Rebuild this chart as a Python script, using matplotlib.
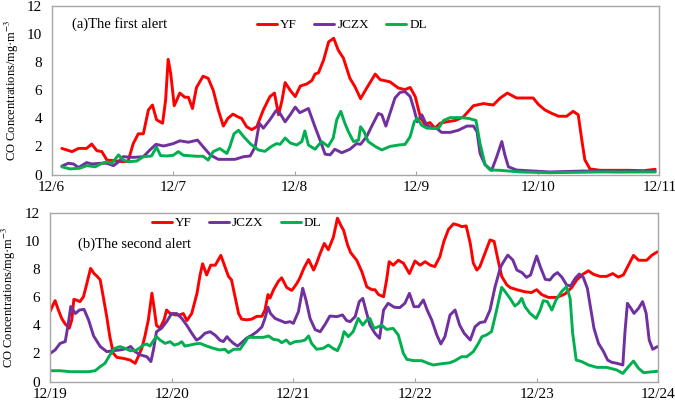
import matplotlib
matplotlib.use("Agg")
import matplotlib.pyplot as plt

plt.rcParams['font.family'] = ['Liberation Serif', 'DejaVu Serif']
plt.rcParams['mathtext.fontset'] = 'stix'

# ---------------- data (x = hours since first date) ----------------
a_dates = ['12/6', '12/7', '12/8', '12/9', '12/10', '12/11']
b_dates = ['12/19', '12/20', '12/21', '12/22', '12/23', '12/24']
series_names = ['YF', 'JCZX', 'DL']

a_yf_t = [2, 4, 5.3, 6.9, 7.9, 8.9, 9.9, 10.9, 12.2, 14.1, 15.1, 16.1, 17.1, 18.1, 19.1, 19.9, 20.7, 21.9,
          22.5, 23.0, 23.5, 24.2, 24.7, 25.3, 26.3, 27.0, 27.8, 28.6, 29.9, 30.9, 31.9, 32.9, 33.9, 34.8,
          35.8, 36.8, 37.5, 38.5, 39.5, 40.5, 41.8, 43.1, 44.0, 44.8, 45.5, 46.1, 47.1, 48.1, 49.1, 50.4,
          51.4, 52.0, 52.7, 53.7, 54.7, 55.7, 56.6, 57.6, 58.9, 59.9, 61.0, 62.2, 63.9, 64.9, 66.8, 68.5,
          69.8, 70.8, 71.8, 72.8, 73.7, 74.7, 75.7, 76.7, 78.0, 79.7, 81.3, 83.3, 85.3, 87.2, 88.6, 90.0,
          91.8, 93.5, 95.1, 96.1, 97.4, 98.8, 100.1, 101.7, 103.0, 104.0, 104.7, 105.3, 106.3, 108.3,
          113.9, 116.9, 119.2]
a_yf_v = [1.86, 1.63, 1.86, 1.86, 2.17, 1.7, 1.63, 1.03, 0.99, 0.91, 0.96, 2.2, 2.9, 2.9, 4.6, 4.95, 3.9, 3.65,
          5.3, 8.2, 7.2, 4.9, 5.3, 5.8, 5.5, 5.5, 4.7, 6.2, 7.0, 6.85, 6.0, 4.6, 3.45, 4.0,
          4.3, 4.1, 4.0, 3.4, 3.2, 3.4, 4.6, 5.55, 5.8, 4.25, 5.3, 6.55, 6.0, 5.55, 6.3, 6.45,
          6.7, 7.15, 7.25, 8.15, 9.45, 9.7, 8.85, 8.3, 6.85, 6.25, 5.4, 6.15, 7.15, 6.75, 6.6, 6.15,
          6.05, 6.2, 5.55, 4.1, 3.55, 3.7, 3.3, 3.65, 3.75, 3.85, 4.1, 4.9, 5.05, 4.95, 5.45, 5.8,
          5.45, 5.45, 5.45, 5.0, 4.6, 4.35, 4.15, 4.15, 4.5, 4.25, 2.45, 1.05, 0.4, 0.3,
          0.3, 0.27, 0.37]

a_jczx_t = [2, 3.3, 4.3, 5.3, 6.9, 7.9, 9.5, 10.9, 12.2, 13.2, 14.1, 16.1, 18.1, 19.4, 20.6, 22.1, 24, 25.3,
            27.0, 28.8, 29.9, 31.3, 32.9, 34.6, 36.2, 37.9, 39.2, 40.2, 41.0, 41.8, 43.1, 44.3, 45.1, 46.1,
            47.1, 48.1, 49.0, 50.7, 52.0, 53.0, 54.0, 55.0, 55.9, 57.3, 58.9, 60.2, 61.0, 62.2, 63.5,
            64.5, 65.2, 66.0, 66.8, 67.8, 68.8, 69.8, 70.8, 71.6, 72.2, 73.1, 74.0, 75.1, 76.0, 77.0, 78.7,
            80.3, 82.0, 83.3, 84.0, 84.6, 85.6, 86.9, 87.9, 88.9, 89.5, 90.2, 91.8, 95.1, 98.4, 105,
            111.6, 119.2]
a_jczx_v = [0.6, 0.8, 0.75, 0.5, 0.85, 0.75, 0.8, 0.8, 0.63, 0.9, 1.27, 1.22, 1.27, 1.75, 2.15, 2.03, 2.2, 2.4,
            2.3, 2.45, 1.98, 1.4, 1.08, 1.08, 1.08, 1.27, 1.32, 1.98, 3.65, 3.3, 3.9, 4.55, 4.35, 3.75,
            4.25, 4.8, 4.4, 4.7, 3.4, 2.45, 1.45, 1.4, 1.8, 1.55, 1.8, 2.2, 2.15, 2.7, 3.65,
            4.35, 4.25, 3.45, 4.35, 5.45, 5.85, 5.9, 5.55, 4.6, 3.75, 4.25, 3.55, 3.3, 3.3, 3.0, 3.0,
            3.15, 3.45, 3.45, 3.05, 1.5, 0.7, 0.3, 1.27, 2.35, 1.4, 0.55, 0.32, 0.25, 0.18, 0.25,
            0.2, 0.22]

a_dl_t = [2, 3.6, 5.6, 6.9, 8.6, 9.9, 10.9, 11.9, 13.2, 14.1, 15.1, 16.8, 18.1, 19.7, 20.7, 21.5, 22.7, 24.0,
          25.0, 26.0, 28.6, 29.9, 30.9, 31.9, 33.2, 34.6, 35.2, 36.0, 36.9, 37.9, 39.2, 40.8, 42.1, 43.4,
          44.4, 45.1, 46.1, 47.1, 48.4, 49.4, 50.0, 50.7, 52.0, 53.3, 54.6, 55.6, 56.3, 57.1, 57.9, 58.6,
          59.6, 60.6, 61.0, 61.7, 62.5, 63.9, 65.2, 66.8, 68.5, 69.8, 70.8, 71.6, 72.2, 73.1, 74.1, 75.4,
          76.4, 77.4, 78.7, 80.7, 82.3, 83.8, 84.6, 85.6, 86.6, 88.6, 92.5, 98.4, 108.3, 119.2]
a_dl_v = [0.55, 0.4, 0.45, 0.63, 0.55, 0.8, 0.9, 0.8, 1.4, 1.03, 0.91, 0.96, 1.27, 1.32, 1.95, 1.35, 1.32, 1.37,
          1.63, 1.37, 1.3, 1.3, 1.03, 1.63, 1.85, 1.5, 2.0, 2.9, 3.15, 2.7, 2.2, 1.75, 1.65, 2.0,
          2.2, 2.15, 2.6, 2.25, 2.1, 2.35, 3.1, 2.1, 1.8, 2.35, 2.0, 2.6, 3.9, 4.5, 3.65, 3.05,
          2.35, 2.45, 3.4, 3.05, 2.35, 2.0, 1.75, 2.0, 2.1, 2.15, 2.7, 3.75, 4.0, 3.5, 3.3, 3.3,
          3.3, 3.85, 4.05, 4.05, 4.0, 3.85, 2.2, 0.7, 0.32, 0.3, 0.18, 0.13, 0.18, 0.18]

b_yf_t = [0, 0.5, 1.0, 1.65, 2.3, 3.0, 3.8, 4.3, 4.7, 5.3, 5.9, 6.6, 7.2, 8.0, 8.7, 9.3, 9.9, 10.5, 11.2, 11.8,
          12.5, 13.2, 14.5, 15.8, 16.8, 17.4, 18.1, 18.7, 19.4, 20.1, 20.5, 21.0, 21.7, 22.5, 23.0, 23.7,
          24.7, 25.6, 26.3, 27.0, 27.95, 29.0, 29.6, 30.1, 30.9, 31.7, 32.6, 33.0, 33.7, 34.5, 35.2, 35.8,
          36.5, 37.2, 37.8, 38.8, 39.8, 40.8, 41.8, 42.4, 43.0, 43.4, 44.1, 45.05, 45.7, 46.7, 47.7, 48.7,
          49.3, 50.1, 51.0, 52.0, 52.6, 53.3, 54.1, 54.9, 55.9, 56.7, 57.5, 57.9, 58.7, 59.3, 60.5, 61.5,
          62.5, 63.5, 64.1, 64.8, 65.8, 66.4, 66.9, 67.7, 68.7, 69.7, 70.9, 72.0, 73.0, 74.0, 75.0, 75.9,
          76.9, 77.7, 78.6, 79.6, 80.6, 81.2, 82.1, 82.9, 83.5, 84.2, 84.8, 85.8, 86.8, 87.6, 88.3, 89.1,
          90.1, 90.8, 92.1, 93.7, 95.0, 96.0, 97.0, 98.3, 100.0, 101.6, 102.9, 103.9, 105.1, 106.2, 107.2,
          108.5, 109.8, 111.0, 112.1, 113.1, 114.1, 115.1, 116.1, 117.7, 118.7, 119.8]
b_yf_v = [4.98, 5.4, 5.77, 5.1, 4.5, 4.1, 3.8, 4.4, 5.86, 5.8, 5.7, 6.05, 6.9, 8.07, 7.7, 7.5, 7.25, 6.05, 4.6, 3.2,
          2.0, 1.72, 1.65, 1.53, 1.3, 1.77, 2.37, 3.2, 4.4, 6.3, 5.35, 4.0, 3.8, 4.4, 5.1, 4.85,
          4.75, 4.75, 4.85, 4.35, 4.85, 6.3, 7.6, 8.4, 7.6, 8.3, 8.3, 8.55, 9.0, 8.2, 7.5, 7.25,
          6.05, 4.85, 4.45, 4.4, 4.45, 4.65, 4.65, 5.1, 6.2, 5.95, 6.55, 7.15, 7.4, 6.7, 6.5, 7.0,
          7.4, 8.1, 8.7, 7.95, 8.45, 9.15, 9.85, 9.4, 10.3, 11.65, 11.05, 10.8, 9.75, 9.2, 8.65, 7.85,
          6.75, 6.55, 6.55, 6.2, 6.05, 7.25, 8.55, 8.3, 8.65, 8.45, 7.7, 8.6, 8.3, 8.55, 8.3, 8.2,
          8.9, 10.0, 10.85, 11.25, 11.15, 11.05, 11.1, 9.85, 8.45, 7.95, 8.2, 9.15, 10.1, 10.0, 8.8, 7.5,
          6.9, 6.7, 6.55, 6.4, 6.35, 6.55, 6.2, 6.0, 6.0, 6.25, 6.7, 7.25, 7.65, 7.9, 7.65,
          7.5, 7.5, 7.7, 7.45, 7.6, 8.3, 9.0, 8.65, 8.65, 9.0, 9.25]

b_jczx_t = [0, 1.0, 2.0, 3.0, 3.5, 4.1, 5.0, 5.8, 6.7, 7.6, 8.6, 9.9, 11.2, 12.5, 13.8, 15.1, 15.9, 16.8, 17.8,
            19.1, 19.9, 20.4, 21.0, 22.0, 23.0, 24.0, 25.0, 26.0, 27.0, 27.95, 28.9, 29.6, 30.6, 31.6, 32.6,
            33.5, 34.2, 34.9, 35.5, 36.2, 37.0, 37.8, 38.8, 39.8, 40.8, 41.8, 42.4, 43.0, 43.5, 44.4, 45.4,
            46.4, 47.35, 48.0, 49.0, 49.85, 50.5, 51.3, 52.3, 53.3, 54.3, 55.2, 56.6, 57.7, 58.5, 59.2, 60.2,
            61.0, 61.7, 62.3, 63.1, 64.1, 65.0, 65.8, 66.7, 67.9, 69.0, 70.0, 70.9, 71.8, 72.7, 73.65, 74.4,
            75.3, 76.3, 77.1, 77.9, 78.9, 79.9, 80.8, 81.7, 82.9, 83.85, 84.8, 85.8, 86.8, 87.8, 88.9, 89.4,
            90.3, 91.3, 92.1, 93.1, 94.0, 94.8, 95.4, 96.0, 96.7, 97.7, 98.6, 99.4, 100.1, 101.0, 101.9,
            102.7, 103.6, 104.4, 105.2, 106.0, 106.7, 107.3, 108.2, 109.2, 110.0, 110.8, 111.8, 113.0, 113.4,
            113.9, 114.6, 115.2, 116.1, 116.9, 117.6, 118.2, 118.9, 119.8]
b_jczx_v = [2.0, 2.25, 2.72, 2.85, 3.9, 5.35, 4.85, 5.1, 5.15, 4.4, 3.25, 2.5, 2.13, 2.2, 2.25, 2.35, 2.5, 2.13, 1.9,
            1.77, 1.42, 2.25, 3.55, 3.8, 4.27, 4.85, 4.85, 4.5, 4.0, 3.45, 2.95, 3.1, 3.45, 3.55, 3.3,
            2.95, 2.85, 3.2, 2.95, 2.72, 2.53, 2.77, 3.1, 3.3, 3.55, 3.9, 4.5, 5.3, 4.85, 4.5, 4.35,
            4.2, 4.27, 4.15, 4.98, 6.65, 5.8, 4.5, 3.7, 3.55, 4.1, 4.67, 4.63, 4.75, 4.35, 4.27, 4.63,
            5.7, 5.93, 5.1, 4.03, 3.44, 3.08, 5.1, 5.58, 5.3, 5.27, 5.58, 6.29, 5.34, 5.34, 5.82, 5.1,
            4.39, 3.32, 2.68, 3.2, 4.74, 5.1, 4.03, 3.44, 2.96, 3.91, 4.2, 4.27, 5.1, 6.77, 8.19, 8.5,
            9.02, 8.67, 7.95, 7.77, 7.43, 7.6, 8.3, 8.95, 8.2, 7.29, 7.24, 7.6, 7.77, 7.43, 6.89,
            6.82, 7.36, 7.67, 7.43, 6.65, 5.1, 3.8, 2.72, 2.13, 1.53, 1.37, 1.3, 1.18, 3.44,
            5.58, 5.22, 4.86, 5.22, 5.7, 4.86, 2.96, 2.3, 2.49]

b_dl_t = [0, 2.0, 3.95, 5.9, 7.6, 8.9, 9.9, 10.85, 11.8, 12.8, 13.8, 14.8, 15.8, 16.8, 17.6, 18.4, 19.1, 19.7,
          20.5, 21.0, 21.7, 22.7, 23.7, 24.5, 25.3, 26.0, 26.6, 27.6, 28.6, 29.6, 30.9, 32.2, 33.5, 34.5,
          35.2, 36.2, 37.5, 38.3, 39.1, 40.8, 42.1, 43.1, 44.1, 45.05, 45.7, 46.6, 47.35, 48.3, 49.65,
          50.3, 51.0, 51.6, 52.6, 53.9, 54.9, 55.8, 56.7, 57.5, 58.0, 58.85, 59.8, 60.8, 61.7, 62.5, 63.1,
          63.9, 64.8, 65.4, 66.4, 67.7, 68.7, 69.7, 70.4, 71.7, 73.3, 74.6, 75.6, 76.9, 78.9, 79.9, 81.2,
          82.2, 83.5, 84.5, 85.2, 86.1, 87.1, 88.1, 89.1, 89.8, 90.75, 91.7, 92.4, 93.05, 93.7, 94.7,
          95.9, 96.7, 97.3, 98.1, 99.0, 99.8, 100.9, 101.9, 102.6, 103.1, 103.8, 104.9, 106.2, 107.85,
          109.8, 111.8, 113.0, 114.1, 115.1, 116.1, 117.1, 118.4, 119.8]
b_dl_v = [0.77, 0.77, 0.7, 0.7, 0.7, 0.77, 1.06, 1.3, 1.89, 2.37, 2.49, 2.37, 2.2, 2.2, 2.37, 2.6, 2.68, 2.53,
          2.96, 3.2, 2.96, 2.72, 2.84, 2.6, 2.68, 2.84, 2.53, 2.6, 2.68, 2.72, 2.53, 2.37, 2.25, 2.3,
          2.06, 2.3, 2.3, 2.72, 3.15, 3.15, 3.15, 3.25, 3.0, 2.96, 2.77, 2.96, 2.68, 2.84, 2.89,
          2.96, 3.25, 2.72, 2.3, 2.37, 2.6, 2.37, 2.2, 2.84, 3.56, 3.2, 3.56, 4.5, 4.03, 4.39, 4.5,
          3.79, 3.91, 4.03, 3.72, 3.79, 3.32, 2.01, 1.58, 1.49, 1.49, 1.3, 1.18, 1.25, 1.34, 1.49, 1.77,
          1.77, 2.13, 2.72, 3.2, 3.32, 3.56, 5.1, 6.72, 6.4, 5.93, 5.39, 5.58, 5.93, 5.34, 4.86,
          4.5, 5.1, 5.77, 5.7, 5.1, 5.81, 6.41, 6.77, 5.93, 3.44, 1.53, 1.42, 1.18, 1.01,
          1.01, 0.82, 0.58, 1.06, 1.46, 0.94, 0.63, 0.68, 0.73]

colors = ['#FF0000', '#7030A0', '#00B050']
spine_c = '#A6A6A6'

fig = plt.figure(figsize=(6.75, 4.05), dpi=100)
ax_a = fig.add_axes([0.0766, 0.5691, 0.9001, 0.4161])
ax_b = fig.add_axes([0.0741, 0.058, 0.9012, 0.4153])


def style(ax, dates, label_x):
    ax.set_xlim(0, 120)
    ax.set_ylim(0, 12)
    ax.set_xticks(range(0, 121, 24))
    ax.set_xticklabels(dates)
    ax.set_yticks(range(0, 13, 2))
    for s in ax.spines.values():
        s.set_color(spine_c)
        s.set_linewidth(1.0)
    ax.tick_params(axis='x', direction='in', length=3, color=spine_c, labelsize=11, pad=5)
    ax.tick_params(axis='y', length=0, labelsize=11, pad=7)
    ax.set_ylabel('CO Concentrations/mg\u00b7m$^{-3}$', fontsize=9)
    ax.yaxis.set_label_coords(label_x, 0.5)


style(ax_a, a_dates, -0.050)
style(ax_b, b_dates, -0.052)

lw = 2.1
for ax, data in [(ax_a, [(a_yf_t, a_yf_v), (a_jczx_t, a_jczx_v), (a_dl_t, a_dl_v)]),
                 (ax_b, [(b_yf_t, b_yf_v), (b_jczx_t, b_jczx_v), (b_dl_t, b_dl_v)])]:
    for (t, v), c, name in zip(data, colors, series_names):
        ax.plot(t, v, color=c, lw=lw, label=name, solid_joinstyle='round', solid_capstyle='round')

leg_kw = dict(ncol=3, frameon=False, fontsize=9.5, handlelength=1.5, handletextpad=0.25,
              columnspacing=1.3, borderaxespad=0, borderpad=0)
ax_a.legend(loc='center', bbox_to_anchor=(0.478, 0.887), **leg_kw)
ax_b.legend(loc='center', bbox_to_anchor=(0.307, 0.942), **leg_kw)

ax_a.text(0.033, 0.893, '(a)The first alert', transform=ax_a.transAxes, fontsize=10.5,
          va='center', ha='left')
ax_b.text(0.046, 0.817, '(b)The second alert', transform=ax_b.transAxes, fontsize=10.5,
          va='center', ha='left')

fig.savefig('out.png', dpi=100)
